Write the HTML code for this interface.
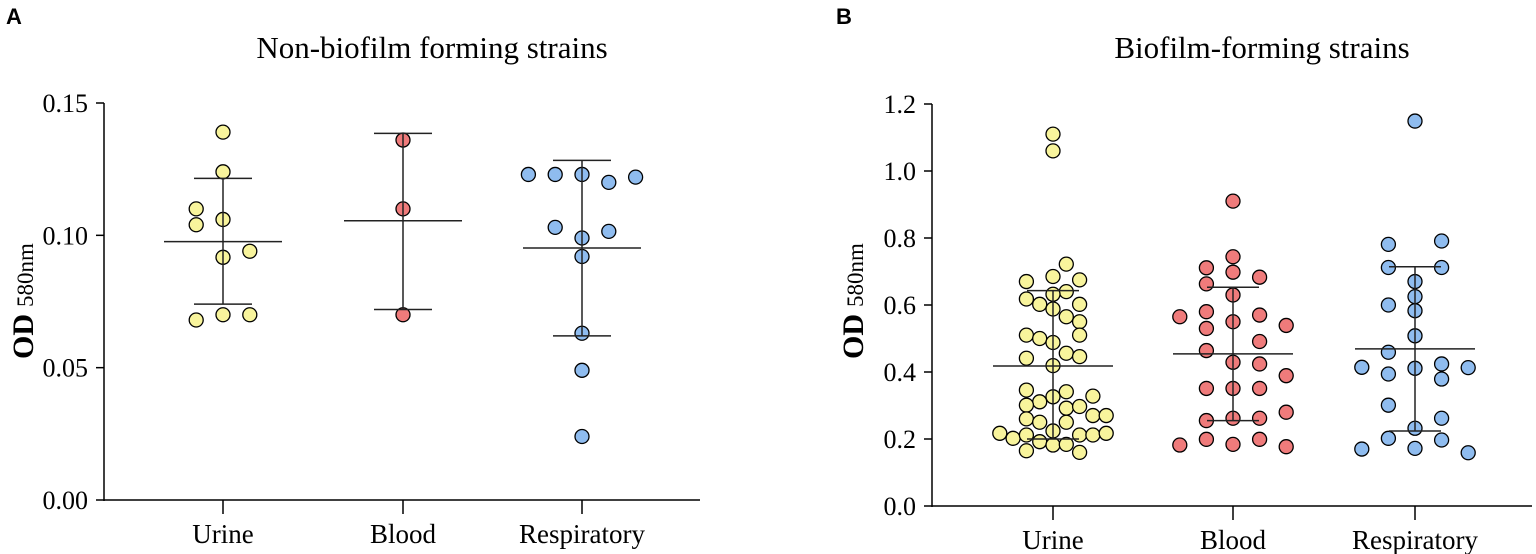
<!DOCTYPE html>
<html><head><meta charset="utf-8"><style>
body{margin:0;background:#fff;}
svg{display:block;font-family:"Liberation Serif",serif;}
</style></head><body>
<svg id="c" width="1536" height="554" viewBox="0 0 1536 554" xmlns="http://www.w3.org/2000/svg">
<text x="6" y="24" font-family="Liberation Sans, sans-serif" font-weight="bold" font-size="22">A</text>
<text x="836" y="24" font-family="Liberation Sans, sans-serif" font-weight="bold" font-size="22">B</text>
<text x="432" y="58" text-anchor="middle" font-size="31">Non-biofilm forming strains</text>
<text x="1262" y="58" text-anchor="middle" font-size="31">Biofilm-forming strains</text>
<text transform="translate(33,301) rotate(-90)" text-anchor="middle" font-size="30"><tspan font-weight="bold">OD</tspan><tspan font-size="23" dx="7">580nm</tspan></text>
<text transform="translate(863,301) rotate(-90)" text-anchor="middle" font-size="30"><tspan font-weight="bold">OD</tspan><tspan font-size="23" dx="7">580nm</tspan></text>
</svg>
<script>
const categories = ["Urine","Blood","Respiratory"];
const colors = ["#f8f49c","#ef7b7b","#8fbcef"];
// Panel A
const aTicks = [0,0.05,0.10,0.15];
const aTickLabels = ["0.00","0.05","0.10","0.15"];
const aUrineCols = [0,0,-2,-2,0,2,0,-2,0,2];
const aUrineVals = [0.139,0.124,0.110,0.104,0.106,0.094,0.0917,0.068,0.070,0.070];
const aBloodCols = [0,0,0];
const aBloodVals = [0.136,0.110,0.070];
const aRespCols = [-4,-2,0,2,4,-2,2,0,0,0,0,0];
const aRespVals = [0.123,0.123,0.123,0.120,0.122,0.103,0.1015,0.099,0.092,0.063,0.049,0.024];
const aMeans = [0.0976,0.1055,0.0952];
const aUpper = [0.1215,0.1385,0.1283];
const aLower = [0.074,0.072,0.062];
// Panel B
const bTicks = [0,0.2,0.4,0.6,0.8,1.0,1.2];
const bTickLabels = ["0.0","0.2","0.4","0.6","0.8","1.0","1.2"];
const bUrineCols = [0,0,1,0,2,-2,1,0,-2,-1,2,0,1,2,-2,2,-1,0,1,-2,2,0,-2,1,0,3,-1,-2,1,2,-2,-1,1,3,4,0,-4,-3,-2,2,3,4,-1,0,1,-2,2];
const bUrineVals = [1.110,1.060,0.722,0.685,0.675,0.670,0.640,0.632,0.618,0.602,0.602,0.588,0.565,0.550,0.510,0.510,0.500,0.488,0.456,0.441,0.446,0.419,0.346,0.341,0.326,0.328,0.311,0.301,0.292,0.297,0.260,0.250,0.250,0.270,0.270,0.224,0.217,0.202,0.212,0.212,0.212,0.217,0.192,0.182,0.184,0.165,0.160];
const bBloodCols = [0,0,-2,0,2,-2,0,-2,2,-4,0,-2,4,2,-2,0,2,4,-2,0,2,4,-2,0,2,-2,2,0,-4,4];
const bBloodVals = [0.910,0.744,0.711,0.698,0.683,0.663,0.630,0.580,0.570,0.565,0.550,0.530,0.539,0.491,0.464,0.429,0.424,0.389,0.351,0.351,0.351,0.280,0.255,0.262,0.262,0.199,0.199,0.184,0.182,0.177];
const bRespCols = [0,-2,2,-2,2,0,0,-2,0,0,-2,-4,0,2,4,-2,2,-2,2,0,-2,2,-4,0,4];
const bRespVals = [1.149,0.781,0.791,0.712,0.712,0.670,0.625,0.600,0.583,0.508,0.459,0.414,0.411,0.424,0.413,0.394,0.379,0.301,0.262,0.232,0.202,0.197,0.170,0.172,0.159];
const bMeans = [0.418,0.454,0.469];
const bUpper = [0.643,0.653,0.714];
const bLower = [0.200,0.255,0.224];

const svg = document.getElementById('c');
const NS = "http://www.w3.org/2000/svg";
function mk(tag, attrs){const e=document.createElementNS(NS,tag);for(const k in attrs)e.setAttribute(k,attrs[k]);svg.appendChild(e);return e;}

function panel(p){
  const y = v => p.y0 - (v - 0)/p.max*(p.y0 - p.y1);
  const x = i => p.cx[i];
  let e = mk('line',{x1:p.ax,y1:p.y1,x2:p.ax,y2:p.y0+1,stroke:'#000','stroke-width':1.5});
  
  
  e = mk('line',{x1:p.ax,y1:p.y0,x2:p.xend,y2:p.y0,stroke:'#000','stroke-width':1.5});
  
  
  p.ticks.forEach((t,i)=>{
    let l = mk('line',{x1:p.ax-8,y1:y(t),x2:p.ax,y2:y(t),stroke:'#000','stroke-width':1.5});
    
    
    let tx = mk('text',{x:p.ax-16,y:y(t)+9,'text-anchor':'end','font-size':26});
    tx.textContent = p.labels[i];
    
    
  });
  categories.forEach((c,i)=>{
    let l = mk('line',{x1:x(i),y1:p.y0,x2:x(i),y2:p.y0+14,stroke:'#000','stroke-width':1.5});
    
    
    let tx = mk('text',{x:x(i),y:p.y0+43,'text-anchor':'middle','font-size':27});
    tx.textContent = c;
    
    
  });
  p.groups.forEach((g,i)=>{
    g.vals.forEach((v,j)=>{
      let d = mk('ellipse',{cx:x(i)+g.cols[j]*p.step,cy:y(v),rx:p.r,ry:p.r,fill:colors[i],stroke:'#000','stroke-width':1.3});
      
      
    });
    let v = mk('line',{x1:x(i),y1:y(p.upper[i]),x2:x(i),y2:y(p.lower[i]),stroke:'#222','stroke-width':1.5});
    
    
    [p.upper[i],p.lower[i]].forEach(b=>{
      let cap = mk('line',{x1:x(i)-p.cap,y1:y(b),x2:x(i)+p.cap,y2:y(b),stroke:'#222','stroke-width':1.5});
      
      
    });
    let m = mk('line',{x1:x(i)-p.mw,y1:y(p.means[i]),x2:x(i)+p.mw,y2:y(p.means[i]),stroke:'#222','stroke-width':1.5});
    
    
  });
}
panel({id:'panel-a',ax:104,xend:700,y0:500,y1:103,max:0.15,cx:[223,403,582],ticks:aTicks,labels:aTickLabels,step:13.4,r:7,cap:29,mw:59,
  groups:[{cols:aUrineCols,vals:aUrineVals},{cols:aBloodCols,vals:aBloodVals},{cols:aRespCols,vals:aRespVals}],
  means:aMeans,upper:aUpper,lower:aLower});
panel({id:'panel-b',ax:932,xend:1532,y0:506,y1:104,max:1.2,cx:[1053,1233,1415],ticks:bTicks,labels:bTickLabels,step:13.3,r:7,cap:26,mw:60,
  groups:[{cols:bUrineCols,vals:bUrineVals},{cols:bBloodCols,vals:bBloodVals},{cols:bRespCols,vals:bRespVals}],
  means:bMeans,upper:bUpper,lower:bLower});
</script>
</body></html>
